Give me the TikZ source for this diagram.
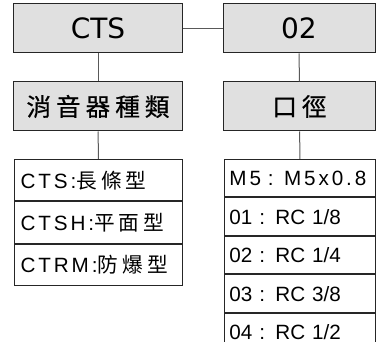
\documentclass[tikz,border=0pt]{standalone}
\usepackage{fontspec}
\setmainfont{Liberation Sans}
\newfontfamily\cjkwide{Noto Sans CJK TC}[LetterSpace=20]
\newfontfamily\cjkhead{Noto Sans CJK TC}[LetterSpace=20, FakeBold=0.6]
\newfontfamily\headfont{DejaVu Sans}
\newfontfamily\widefont{Liberation Sans}[LetterSpace=14]
\usetikzlibrary{positioning}

\begin{document}
\begin{tikzpicture}[
        x=0.75pt, y=-0.75pt,
        headbox/.style={draw=black!85, fill=black!12, line width=0.75pt,
            inner sep=0pt, minimum height=36.75pt},
        codebox/.style={headbox, font=\headfont\fontsize{21}{25}\selectfont},
        namebox/.style={headbox, font=\cjkhead\fontsize{18.5}{22}\selectfont},
        listrow/.style={draw=black!85, line width=0.75pt, inner ysep=0pt,
            align=left, font=\fontsize{15.5}{18}\selectfont},
        leftrow/.style={listrow, inner xsep=4.5pt, text width=117pt, minimum height=31pt},
        rightrow/.style={listrow, inner xsep=3.75pt, text width=105.75pt, minimum height=28.125pt},
        link/.style={draw=black!65, line width=0.75pt}
    ]
    \useasboundingbox (0,0) rectangle (376,342);

    % Code boxes
    \node[codebox, minimum width=126pt] (cts) at (98,28.5) {CTS};
    \node[codebox, minimum width=114pt] (port) at (299,28.5) {02};

    % Item names
    \node[namebox, minimum width=126pt] (kind) at (98,106.5) {消音器種類};
    \node[namebox, minimum width=114pt] (size) at (299.5,106.5) {口徑};

    % Silencer types
    \node[leftrow, anchor=north west] (k1) at (14,159) {\widefont CTS:\cjkwide 長條型};
    \node[leftrow, below=0pt of k1] (k2) {\widefont CTSH:\cjkwide 平面型};
    \node[leftrow, below=0pt of k2] (k3) {\widefont CTRM:\cjkwide 防爆型};

    % Port sizes
    \node[rightrow, anchor=north west] (s1) at (224,159) {\widefont M5 : M5x0.8};
    \node[rightrow, below=0pt of s1] (s2) {01 : RC 1/8};
    \node[rightrow, below=0pt of s2] (s3) {02 : RC 1/4};
    \node[rightrow, below=0pt of s3] (s4) {03 : RC 3/8};
    \node[rightrow, below=0pt of s4] (s5) {04 : RC 1/2};

    % Connectors
    \draw[link] (cts) -- (port);
    \draw[link] (cts) -- (kind);
    \draw[link] (kind) -- (k1);
    \draw[link] (port) -- (size);
    \draw[link] (size) -- (s1);

\end{tikzpicture}
\end{document}
